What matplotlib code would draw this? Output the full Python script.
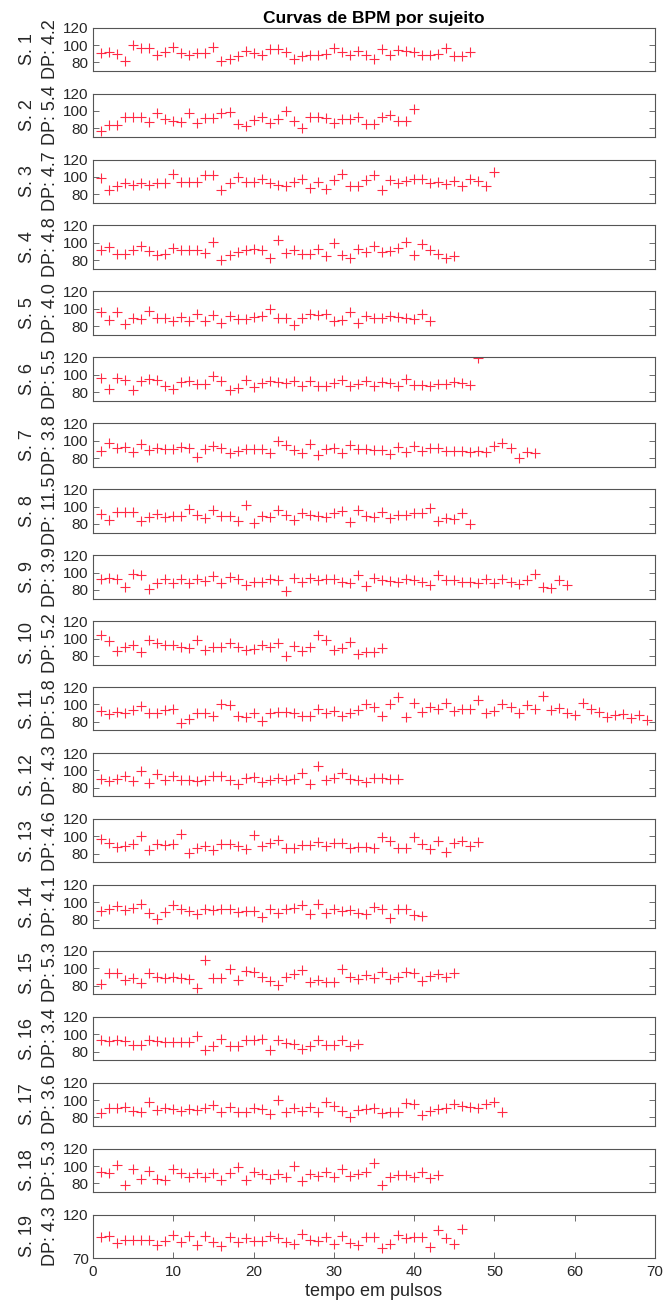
import matplotlib
matplotlib.use('Agg')
import matplotlib.pyplot as plt

# BPM per pulse, one list per subject (x = 1, 2, 3, ...)
bpm_s1 = [90.7, 92.5, 89.5, 82, 100, 97, 96, 88.4, 91.4, 98, 90.7, 89, 90.7, 90.7, 98, 82, 84, 87.7, 93, 90.7,
          88.4, 95, 95, 92.5, 84, 87, 88.4, 89, 90, 97, 91.4, 89, 93, 88.4, 84, 95, 88.4, 94.4, 93, 91.4,
          88.4, 88.4, 89.5, 97, 87, 87.7, 92.5]
bpm_s2 = [77, 83.5, 83.5, 93.6, 93.6, 93.6, 87.3, 97.4, 91, 89, 87, 97.4, 86.5, 92, 92, 97.4, 99, 85.5, 82.8, 90,
          93, 86.5, 91, 100, 89, 80.6, 93.6, 93.6, 92, 86.5, 91, 91, 93.6, 85.5, 85.5, 93, 95.5, 88, 89, 102.2]
bpm_s3 = [99, 85, 89, 92.6, 91, 93.4, 91, 93.4, 92.6, 103, 94.4, 94.4, 94.4, 102, 102, 84.5, 92.6, 100, 94.4, 94.4,
          98, 92.6, 91, 90, 94.4, 98, 87, 94.4, 86, 96.3, 103.7, 89, 89, 96.3, 102, 85, 96.3, 92.6, 95.5, 98,
          98, 92.6, 94.4, 91.5, 95.5, 89, 98, 95.5, 89, 105.7]
bpm_s4 = [92.3, 95, 87.7, 87.7, 92.3, 96, 90.4, 86.5, 87.7, 94, 91.5, 92.3, 92.3, 88.5, 100.8, 80.8, 86.5, 89.2,
          91.5, 93, 91.5, 82.7, 103.8, 88.5, 92.3, 87.7, 87.7, 93, 85.4, 100, 86.5, 82.7, 93, 89.2, 96, 89.2,
          90.4, 94, 100.8, 86.5, 99.2, 92.3, 87.7, 82.7, 84.6]
bpm_s5 = [96, 87.3, 96, 82.7, 89.2, 88, 98, 89.2, 89.2, 86.5, 90.4, 86.5, 94.2, 85.4, 93, 83.5, 91.2, 88, 88, 90.4,
          92, 100, 89.2, 89.2, 81.5, 89.2, 94.2, 93, 94.2, 85.4, 87.3, 95.8, 84.2, 92, 89.2, 89.2, 92, 90.4,
          89.2, 88, 94.2, 86.5]
bpm_s6 = [96, 83.5, 96, 94.2, 81.9, 92.3, 95.4, 93.5, 87.3, 83.5, 91.2, 92.3, 89.2, 89.2, 98, 92.3, 81.9, 84.6,
          93.5, 85.8, 90.4, 92.3, 91.2, 90.4, 92.3, 87.3, 92.3, 87.3, 86.5, 90.4, 93.5, 87.3, 89.6, 92.3, 87.3,
          91.2, 90.4, 87.3, 95, 88.5, 88.5, 87.3, 89.6, 89.6, 91.2, 90.4, 88.5, 119.2]
bpm_s7 = [88.5, 97, 91.2, 93, 87.3, 96, 89.2, 91.2, 90, 90.4, 93, 91.2, 81.5, 90, 93.8, 91.2, 85.4, 88.5, 90, 90,
          90, 85.4, 100, 95, 89.2, 85.4, 96, 83.5, 90, 91.2, 86.2, 95, 90, 90, 89.2, 89.2, 84.6, 92.3, 87.3,
          93.8, 88.5, 91.2, 91.2, 88.5, 88.5, 88.5, 87.3, 88.5, 86.5, 93.8, 97.7, 91.2, 79.6, 87.3, 85.4]
bpm_s8 = [91.5, 84.6, 94.2, 94.2, 94.2, 83.8, 88.5, 91.5, 87.7, 89.2, 89.2, 96.9, 90.4, 86.5, 96.2, 89.2, 89.2,
          83.8, 101.9, 81.5, 89.2, 88.5, 96.2, 90.4, 84.6, 92.3, 90.4, 89.2, 87.7, 93, 95.4, 82.7, 96.2, 89.2,
          87.7, 94.2, 86.5, 90.4, 90.4, 93, 93, 98.8, 83.8, 86.5, 85.4, 92.3, 80]
bpm_s9 = [93, 94.2, 92.3, 83.8, 98, 96.9, 81.5, 88.5, 93, 88.5, 93, 88.5, 92.3, 90.4, 96.2, 88.5, 95.4, 92.3,
          85.4, 89.2, 89.2, 93, 91.5, 78.8, 94.2, 89.2, 94.2, 91.5, 92.3, 92.3, 89.2, 87.7, 96.9, 84.6, 94.2,
          91.5, 90.4, 89.2, 93, 91.5, 89.2, 85.4, 96.9, 91.5, 91.5, 89.2, 89.2, 87.7, 92.3, 88.5, 93, 89.2,
          86.5, 91.5, 98, 83.8, 82.7, 91.5, 85.4]
bpm_s10 = [103.5, 97, 85.4, 90.4, 93, 84.2, 98, 95, 93, 93, 90.4, 89.2, 98.8, 87.3, 90.4, 90.4, 95, 90.4, 86.5,
           88, 92, 90.4, 95, 80, 91.2, 85.4, 90.4, 103.5, 98.8, 87.3, 89.2, 95.8, 81.9, 84.6, 84.6, 89.2]
bpm_s11 = [92.5, 88.7, 91.3, 90.6, 93.6, 98.1, 89.8, 89.8, 93.6, 95.1, 79.2, 83.8, 89.8, 89.8, 86.8, 100, 98.9,
           86.8, 86, 89.8, 81.1, 90.6, 91.3, 91.3, 89.8, 86.8, 86.8, 95.1, 89.8, 92.5, 86.8, 89.8, 93.6, 100,
           97.4, 86.8, 100, 108.7, 86, 101.9, 91.3, 97.4, 95.1, 101.1, 92.5, 95.1, 95.1, 104.9, 90.6, 92.5, 100,
           97.4, 90.6, 98.9, 95.1, 109.4, 93.6, 96.2, 90.6, 87.5, 101.1, 94.3, 91.3, 86, 87.5, 88.7, 84.9, 87.5,
           82.3]
bpm_s12 = [90, 87.4, 90, 94, 87.4, 98.9, 85.5, 96.2, 88.6, 94, 89.3, 89.3, 87.4, 89.3, 94, 94, 89.3, 83.8, 91.2,
           92.4, 86.3, 88.6, 91.2, 88.6, 90, 97, 83.8, 104.6, 88.6, 91.2, 97, 90, 89.3, 86.3, 91.2, 91.2, 90, 90]
bpm_s13 = [97.4, 92.5, 87.5, 88.7, 90.6, 100, 83.8, 91.3, 89.8, 90.6, 102.6, 81.1, 86.8, 88.7, 83.8, 90.6, 90.6,
           88.7, 84.9, 101.1, 88.7, 92.5, 96.2, 86.8, 86.8, 89.8, 89.8, 93.6, 88.7, 92.5, 92.5, 86.8, 87.5, 87.5,
           86, 98.9, 95.1, 86.8, 86.8, 98.9, 91.3, 84.9, 95.1, 82.3, 92.5, 95.1, 88.7, 93.6]
bpm_s14 = [89.8, 91.7, 95.5, 91, 93.6, 98.5, 87.2, 80.4, 88.7, 97.4, 91.7, 89.8, 86, 92.5, 91, 91.7, 92.5, 88.7,
           89.8, 89.8, 83.4, 91.7, 87.2, 92.5, 93.6, 97.4, 86, 98.5, 88, 91.7, 89.8, 91, 87.2, 86, 94.7, 92.5,
           82.3, 92.5, 92.5, 84.9, 84.2]
bpm_s15 = [81.5, 94.2, 94.2, 86.5, 88.5, 82.7, 94.2, 90.4, 89.2, 90.4, 88.5, 87.7, 76.9, 109.6, 88.5, 89.2, 99.2,
           86.5, 96.9, 96.2, 90.4, 85.4, 80.8, 90.4, 93.1, 98.1, 83.8, 86.5, 84.6, 84.6, 99.2, 90.4, 87.7, 92.3,
           88.5, 96.2, 87.7, 90.4, 95.4, 94.2, 85.4, 91.5, 93.1, 90.4, 94.2]
bpm_s16 = [93.6, 91.7, 93.6, 91.7, 87.9, 87.9, 93.6, 91.7, 90.6, 90.6, 90.6, 90.6, 97.4, 81.5, 86.8, 94.3, 86.8,
           86.8, 92.8, 92.8, 94.3, 82.3, 92.8, 89.8, 89, 83, 86, 93.6, 87.9, 87.9, 93.6, 86.8, 89]
bpm_s17 = [84.9, 91.3, 90.6, 92.5, 87.5, 86.8, 97.4, 88.7, 90.6, 89.8, 87.5, 89.8, 88.7, 90.6, 94.3, 86.8, 92.5,
           86.8, 86.8, 91.3, 89.8, 83.8, 100, 86.8, 91.3, 87.5, 92.5, 86.8, 98.1, 93.6, 87.5, 81.1, 88.7, 89.8,
           90.6, 84.9, 86, 86, 96.2, 95.1, 83, 87.5, 89.8, 91.3, 95.1, 93.6, 92.5, 90.6, 95.1, 98.1, 86.8]
bpm_s18 = [93.1, 92.4, 100.8, 78.1, 96.2, 85.5, 94.3, 84.8, 84, 96.2, 92.4, 87.8, 91.6, 87.8, 92.4, 84, 91.6,
           99.2, 84, 93.1, 90.5, 85.5, 90.5, 87.8, 100, 83, 90.5, 88.6, 93.1, 87.8, 97, 88.6, 90.5, 93.1, 103,
           78.1, 87.8, 89.3, 89.3, 87.8, 93.1, 86.7, 89.3]
bpm_s19 = [94, 95.2, 87.2, 91.2, 91.2, 91.2, 91.2, 84.8, 90, 96.8, 88, 95.2, 84.8, 95.2, 88, 84, 94, 88.8, 92.8,
           90, 90, 95.2, 92.8, 88.8, 86, 98, 91.2, 90, 94, 86, 95.2, 87.2, 84.8, 94, 94, 82, 86, 96, 92.8, 94,
           94, 83.2, 102, 92.8, 86, 103.2]

dp_values = [4.2, 5.4, 4.7, 4.8, 4.0, 5.5, 3.8, 11.5, 3.9, 5.2, 5.8, 4.3, 4.6, 4.1, 5.3, 3.4, 3.6, 5.3, 4.3]

subjects = [bpm_s1, bpm_s2, bpm_s3, bpm_s4, bpm_s5, bpm_s6, bpm_s7, bpm_s8, bpm_s9, bpm_s10,
            bpm_s11, bpm_s12, bpm_s13, bpm_s14, bpm_s15, bpm_s16, bpm_s17, bpm_s18, bpm_s19]

plt.rcParams['font.family'] = ['Liberation Sans', 'DejaVu Sans']

fig = plt.figure(figsize=(6.63, 13.11), dpi=100)

n = len(subjects)
left = 0.1403
width = 0.8477
height = 0.0331
bottom0 = 0.0404
pitch = 0.0503
box_color = '#555555'
text_color = '#262626'

for i in range(n):
    bottom = bottom0 + (n - 1 - i) * pitch
    ax = fig.add_axes([left, bottom, width, height])
    values = subjects[i]
    X = list(range(1, len(values) + 1))
    ax.plot(X, values, linestyle='none', marker='+', markersize=7.5, markeredgewidth=0.8,
            color='#ff2a45')
    ax.set_xlim(0, 70)
    ax.set_ylim(70, 120)
    for s in ax.spines.values():
        s.set_color(box_color)
        s.set_linewidth(0.8)
    ax.set_ylabel("S. %d\nDP: %.1f" % (i + 1, dp_values[i]), fontsize=13, linespacing=1.45,
                  labelpad=3, color=text_color)
    ax.tick_params(axis='y', direction='in', left=True, right=True, length=4, width=0.6,
                   color=box_color, labelsize=11, labelcolor=text_color, pad=3)
    if i == n - 1:
        ax.set_yticks([70, 120])
        ax.set_xticks(range(0, 71, 10))
        ax.tick_params(axis='x', direction='in', top=True, bottom=True, length=4, width=0.6,
                       color=box_color, labelsize=11, labelcolor=text_color, pad=5)
        ax.set_xlabel("tempo em pulsos", fontsize=13, color=text_color, labelpad=3)
    else:
        ax.set_yticks([80, 100, 120])
        ax.set_xticks([])
    if i == 0:
        ax.set_title("Curvas de BPM por sujeito", fontsize=12.5, fontweight='bold', pad=3)

fig.savefig('out.png', dpi=100)
